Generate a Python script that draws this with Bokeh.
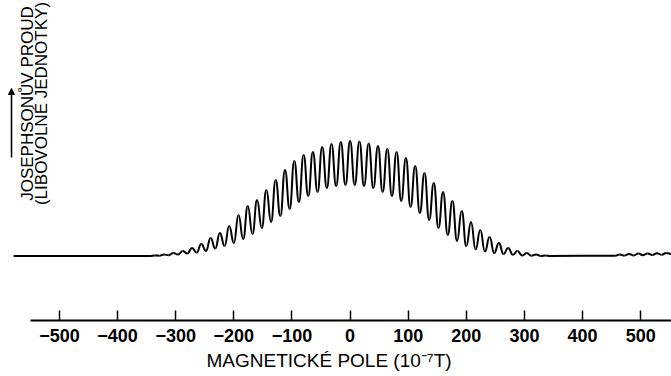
import numpy as np
from bokeh.plotting import figure
from bokeh.models import (Label, Arrow, NormalHead, FixedTicker, Range1d,
                          ColumnDataSource, Title)
from bokeh.embed import file_html
from bokeh.resources import INLINE

# Josephson current vs. magnetic field: maxima and minima of the interference trace
peak_field = [-336, -320, -304, -288, -272, -256, -240, -224, -208, -192, -176,
              -160, -144, -128, -112, -96, -80, -64, -48, -32, -16, 0,
              16, 32, 48, 64, 80, 96, 112, 128, 144, 160, 176, 192, 208,
              224, 240, 256, 272, 288, 304, 320, 336]
peak_current = [0.5, 1.5, 3, 5, 8, 12, 18, 23, 30, 41, 50,
                56, 66, 76, 86, 95, 101, 104, 109, 112, 114, 115,
                114.5, 112.5, 110, 107, 104, 98, 90, 83, 73, 64, 55, 45, 34,
                26, 19, 13, 8, 5, 3, 1.5, 0.5]
trough_field = [-344, -328, -312, -296, -280, -264, -248, -232, -216, -200, -184,
                -168, -152, -136, -120, -104, -88, -72, -56, -40, -24, -8,
                8, 24, 40, 56, 72, 88, 104, 120, 136, 152, 168, 184, 200,
                216, 232, 248, 264, 280, 296, 312, 328, 344]
trough_current = [0, 0.3, 0.8, 1.5, 2.5, 3.5, 5, 7.5, 10, 13, 17,
                  22, 28, 34, 40, 47, 54, 60, 64, 68, 70, 71,
                  71, 70, 68, 64, 60, 55, 49, 43, 36, 28, 21, 15, 10,
                  6.5, 4.5, 3, 2, 1.2, 0.6, 0.3, 0.1, 0]
# weak side lobes at high field
tail_field = [456, 464, 472, 480, 488, 496, 504, 512, 520, 528, 536, 544, 553]
tail_current = [0.3, 1.5, 0.4, 2.0, 0.6, 2.4, 0.8, 2.6, 1.0, 2.8, 1.2, 3.0, 2.0]
# start of the recorded trace
start_field, start_current = -579, 0.0

tick_values = [-500, -400, -300, -200, -100, 0, 100, 200, 300, 400, 500]

W, H = 671, 376
X0, X1 = -601.5, 553.0
Y0, Y1 = -64.5, 255.5
BOTTOM = 56


def sx(px):
    return X0 + (X1 - X0) * px / W


def sy(py):
    frame_h = H - BOTTOM
    return Y1 - (Y1 - Y0) * py / frame_h


fx = [start_field] + peak_field + trough_field + tail_field
fy = [start_current] + peak_current + trough_current + tail_current
order = np.argsort(fx)
xs = np.asarray(fx, dtype=float)[order]
ys = np.asarray(fy, dtype=float)[order]

# smooth trace: cubic segments with flat tangents at every extremum
xm = (xs[:-1] + xs[1:]) / 2
src = ColumnDataSource(dict(x0=xs[:-1], y0=ys[:-1], x1=xs[1:], y1=ys[1:],
                            cx0=xm, cy0=ys[:-1], cx1=xm, cy1=ys[1:]))

p = figure(width=W, height=H, output_backend="svg", toolbar_location=None,
           x_range=Range1d(X0, X1), y_range=Range1d(Y0, Y1),
           y_axis_location=None, min_border_left=0, min_border_right=0,
           min_border_top=0, min_border_bottom=BOTTOM,
           outline_line_color=None, background_fill_color="white",
           border_fill_color="white")
p.xgrid.visible = False
p.ygrid.visible = False

p.bezier(x0="x0", y0="y0", x1="x1", y1="y1", cx0="cx0", cy0="cy0",
         cx1="cx1", cy1="cy1", source=src, line_color="black", line_width=2)

ax = p.xaxis[0]
ax.ticker = FixedTicker(ticks=tick_values)
ax.bounds = (-550, X1)
ax.axis_line_width = 2
ax.axis_line_color = "black"
ax.major_tick_in = 10
ax.major_tick_out = 0
ax.major_tick_line_width = 1.5
ax.minor_tick_line_color = None
ax.major_label_standoff = 8
ax.major_label_text_font = "Liberation Sans"
ax.major_label_text_font_size = "18px"
ax.major_label_text_font_style = "bold"
ax.major_label_text_color = "black"

# axis title, sitting at the bottom edge under the tick labels
p.add_layout(Title(text="MAGNETICKÉ POLE (10⁻⁷T)", align="left", offset=206,
                   standoff=6, vertical_align="bottom",
                   text_font="Liberation Sans",
                   text_font_size="19px", text_font_style="normal",
                   text_color="black"), "below")

p.add_layout(Label(x=sx(27), y=sy(103), text="JOSEPHSONŮV PROUD", angle=90,
                   angle_units="deg", text_align="center", text_baseline="middle",
                   text_font="Liberation Sans", text_font_size="17px",
                   text_color="black"))
p.add_layout(Label(x=sx(41), y=sy(103), text="(LIBOVOLNÉ JEDNOTKY)", angle=90,
                   angle_units="deg", text_align="center", text_baseline="middle",
                   text_font="Liberation Sans", text_font_size="17px",
                   text_color="black"))
p.add_layout(Arrow(end=NormalHead(size=6, fill_color="black", line_color="black"),
                   x_start=sx(11), y_start=sy(157), x_end=sx(11), y_end=sy(88),
                   line_width=1.5, line_color="black"))

open("out.html", "w").write(file_html(p, INLINE))
